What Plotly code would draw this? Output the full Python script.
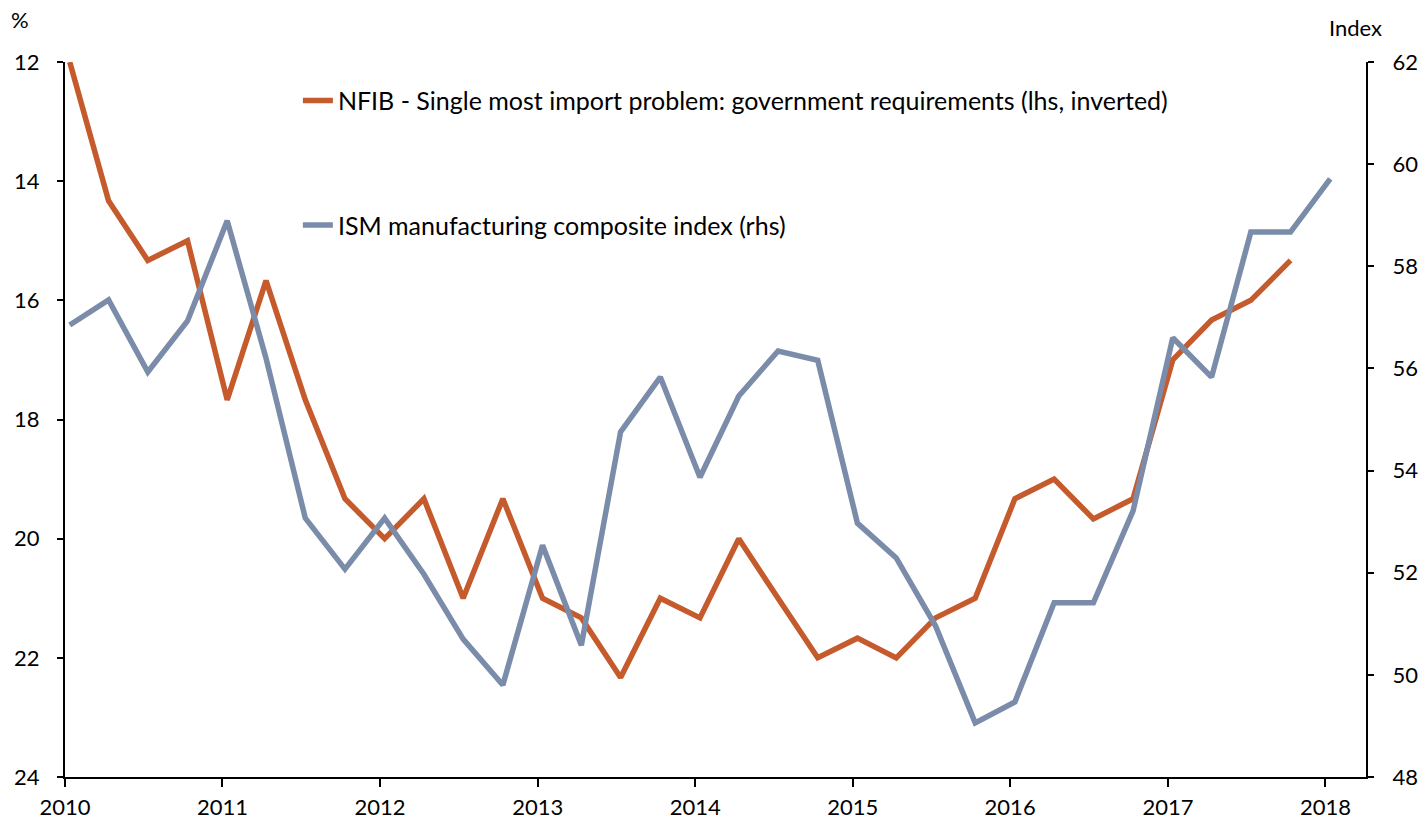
import plotly.graph_objects as go

dates = [f"{y}-{m:02d}-12" for y in range(2010, 2019) for m in (1, 4, 7, 10)]

nfib = [12.0, 14.33, 15.33, 15.0, 17.67, 15.67, 17.67, 19.33,
        20.0, 19.33, 21.0, 19.33, 21.0, 21.33, 22.33, 21.0,
        21.33, 20.0, 21.0, 22.0, 21.67, 22.0, 21.33, 21.0,
        19.33, 19.0, 19.67, 19.33, 17.0, 16.33, 16.0, 15.33]

ism = [56.85, 57.34, 55.93, 56.93, 58.89, 56.2, 53.07, 52.07,
       53.07, 51.97, 50.7, 49.8, 52.54, 50.58, 54.76, 55.83,
       53.87, 55.46, 56.34, 56.16, 52.97, 52.29, 50.96, 49.06,
       49.47, 51.41, 51.41, 53.21, 56.6, 55.83, 58.67, 58.67, 59.71]

year_ticks = [f"{y}-01-01" for y in range(2010, 2019)]
year_labels = [str(y) for y in range(2010, 2019)]
left_ticks = [12, 14, 16, 18, 20, 22, 24]
right_ticks = [48, 50, 52, 54, 56, 58, 60, 62]

ORANGE = "#C55A2C"
BLUE = "#7A8CA9"
FONT = "Lato"

fig = go.Figure()
fig.add_trace(go.Scatter(
    x=dates[:len(nfib)], y=nfib, mode="lines", yaxis="y",
    name="NFIB - Single most import problem: government requirements (lhs, inverted)",
    line=dict(color=ORANGE, width=5.5), legendgroup="a"))
fig.add_trace(go.Scatter(
    x=dates[:len(ism)], y=ism, mode="lines", yaxis="y2",
    name="ISM manufacturing composite index (rhs)",
    line=dict(color=BLUE, width=5.5), legendgroup="b"))

axis_common = dict(showgrid=False, zeroline=False, showline=True, linecolor="black",
                   linewidth=2, ticks="outside", tickcolor="black", tickwidth=2,
                   tickfont=dict(family=FONT, size=22, color="black"))

L, R, T, B = 65, 58, 62, 45
fig.update_layout(
    width=1424, height=822,
    margin=dict(l=L, r=R, t=T, b=B, autoexpand=False),
    plot_bgcolor="white", paper_bgcolor="white",
    font=dict(family=FONT, size=22, color="black"),
    xaxis=dict(type="date", range=["2010-01-01", "2018-04-05"],
               tickvals=year_ticks, ticktext=year_labels, ticklen=8,
               ticklabelstandoff=2, automargin=False, **axis_common),
    yaxis=dict(range=[24, 12], tickvals=left_ticks, ticklen=6,
               ticklabelstandoff=13, automargin=False, **axis_common),
    yaxis2=dict(range=[48, 62], tickvals=right_ticks, ticklen=6, overlaying="y",
                side="right", ticklabelstandoff=14, automargin=False, **axis_common),
    showlegend=True,
    legend=dict(x=0.179, y=0.978, xanchor="left", yanchor="top",
                bgcolor="rgba(0,0,0,0)", tracegroupgap=89,
                traceorder="grouped",
                font=dict(family=FONT, size=25, color="black")),
)
pw = 1424 - L - R
ph = 822 - T - B
fig.add_annotation(text="%", x=(20 - L) / pw, y=(777 - 20) / ph, xref="paper",
                   yref="paper", showarrow=False, xanchor="center", yanchor="middle")
fig.add_annotation(text="Index", x=(1355 - L) / pw, y=(777 - 28) / ph, xref="paper",
                   yref="paper", showarrow=False, xanchor="center", yanchor="middle")

fig.write_html("out.html", config={"displayModeBar": False},
               post_script="document.body.style.margin='0';")
